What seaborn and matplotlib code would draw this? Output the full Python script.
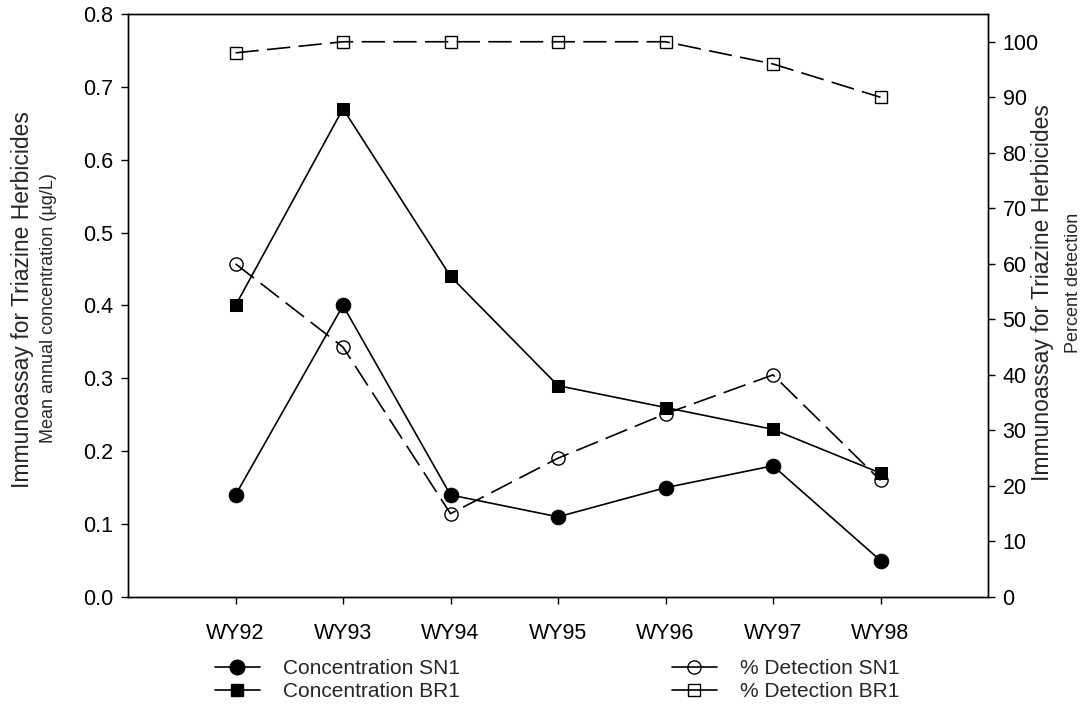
import matplotlib
matplotlib.use("Agg")
import matplotlib.pyplot as plt
from matplotlib.lines import Line2D
import seaborn as sns
import numpy as np

years = ["WY92", "WY93", "WY94", "WY95", "WY96", "WY97", "WY98"]
conc_sn1 = [0.14, 0.40, 0.14, 0.11, 0.15, 0.18, 0.05]
conc_br1 = [0.40, 0.67, 0.44, 0.29, 0.26, 0.23, 0.17]
det_sn1 = [60, 45, 15, 25, 33, 40, 21]
det_br1 = [98, 100, 100, 100, 100, 96, 90]

sns.set_style("ticks")
plt.rcParams["font.family"] = ["Liberation Sans", "DejaVu Sans"]

fig = plt.figure(figsize=(10.85, 7.21), dpi=100)
ax = fig.add_axes([0.118, 0.172, 0.7926, 0.8086])
ax2 = ax.twinx()

x = np.arange(len(years))
lw = 1.2
dash = (0, (14, 5))

sns.lineplot(x=x, y=conc_sn1, ax=ax, color="black", lw=lw, marker="o",
             markersize=10.5, markeredgecolor="black", markerfacecolor="black")
sns.lineplot(x=x, y=conc_br1, ax=ax, color="black", lw=lw, marker="s",
             markersize=9, markeredgecolor="black", markerfacecolor="black")
sns.lineplot(x=x, y=det_sn1, ax=ax2, color="black", lw=lw, marker="o",
             markersize=9.5, markeredgecolor="black", markerfacecolor="none",
             markeredgewidth=1.0, linestyle=dash)
sns.lineplot(x=x, y=det_br1, ax=ax2, color="black", lw=lw, marker="s",
             markersize=8.5, markeredgecolor="black", markerfacecolor="none",
             markeredgewidth=1.0, linestyle=dash)

ax.set_xlim(-1, 7)
ax.set_ylim(0, 0.8)
ax2.set_ylim(0, 105)
ax.set_xticks(x)
ax.set_xticklabels(years)
ax.set_yticks(np.arange(0, 0.81, 0.1))
ax.set_yticklabels([f"{v:.1f}" for v in np.arange(0, 0.81, 0.1)])
ax2.set_yticks(np.arange(0, 101, 10))

for a in (ax, ax2):
    for s in a.spines.values():
        s.set_visible(True)
        s.set_color("black")
        s.set_linewidth(1.0)
    a.tick_params(axis="y", labelsize=15.5, direction="out", length=5,
                  width=1.0, colors="black", pad=5.5)
ax.tick_params(axis="x", labelsize=15.5, direction="out", length=5,
               width=1.0, colors="black", pad=13.5)
ax.set_xlabel("")
ax.set_ylabel("")
ax2.set_ylabel("")

fig.text(0.021, 1 - 300 / 721, "Immunoassay for Triazine Herbicides",
         rotation=90, fontsize=16.5, ha="center", va="center")
fig.text(0.045, 1 - 308 / 721, "Mean annual concentration (µg/L)",
         rotation=90, fontsize=13, ha="center", va="center")
fig.text(1043 / 1085, 1 - 293 / 721, "Immunoassay for Triazine Herbicides",
         rotation=90, fontsize=16.5, ha="center", va="center")
fig.text(1073 / 1085, 1 - 283 / 721, "Percent detection",
         rotation=90, fontsize=13, ha="center", va="center")

handles = [
    Line2D([], [], color="black", lw=lw, marker="o", markersize=10.5,
           markerfacecolor="black"),
    Line2D([], [], color="black", lw=lw, marker="s", markersize=9,
           markerfacecolor="black"),
    Line2D([], [], color="black", lw=lw, marker="o", markersize=9.5,
           markerfacecolor="none", markeredgewidth=1.0),
    Line2D([], [], color="black", lw=lw, marker="s", markersize=8.5,
           markerfacecolor="none", markeredgewidth=1.0),
]
labels = ["Concentration SN1", "Concentration BR1", "% Detection SN1",
          "% Detection BR1"]
fig.legend(handles, labels, loc="upper left", bbox_to_anchor=(0.198, 0.086),
           ncol=2, frameon=False, fontsize=15, handlelength=2.15,
           handletextpad=1.1, columnspacing=10.2, labelspacing=0.2,
           borderpad=0, borderaxespad=0)

fig.savefig("out.png", dpi=100)
